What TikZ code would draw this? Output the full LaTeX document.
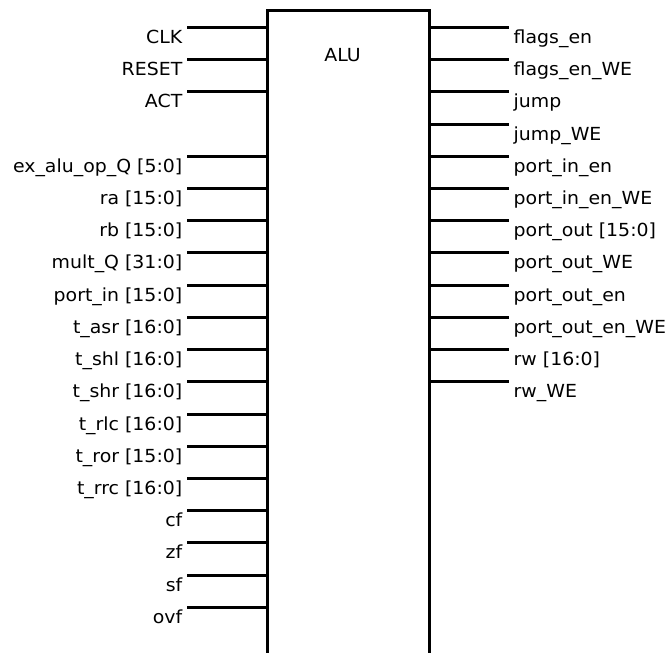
\documentclass[tikz,border=0pt]{standalone}
\usepackage{fontspec}
\setmainfont[FakeStretch=1.05]{DejaVu Sans}
\begin{document}
\begin{tikzpicture}[x=1pt,y=-1pt,
  pin/.style={line width=3pt},
  boxline/.style={line width=3pt},
  lbl/.style={inner sep=0pt,font=\fontsize{18}{21}\selectfont}]
\useasboundingbox (0,0) rectangle (668,652);
\def\dy{32.22}
\def\yz{27.4}
% box
\coordinate (bl) at (267,653);
\coordinate (tl) at (267,11);
\coordinate (tr) at (429,11);
\coordinate (br) at (429,653);
\draw[boxline] (bl) -- (tl) -- (tr) -- (br);
\node[lbl,anchor=base] (alu) at (342.5,61.5) {ALU};
% left pins
\foreach \i/\t in {0/CLK,1/RESET,2/ACT,4/{ex\_alu\_op\_Q [5:0]},5/{ra [15:0]},6/{rb [15:0]},7/{mult\_Q [31:0]},8/{port\_in [15:0]},9/{t\_asr [16:0]},10/{t\_shl [16:0]},11/{t\_shr [16:0]},12/{t\_rlc [16:0]},13/{t\_ror [15:0]},14/{t\_rrc [16:0]},15/cf,16/zf,17/sf,18/ovf}{
  \pgfmathsetmacro\yy{\yz+\i*\dy}
  \coordinate (L\i) at (187,\yy);
  \coordinate (LB\i) at (267,\yy);
  \node[lbl,anchor=base east] (LT\i) at (182.5,\yy+16) {\t};
  \draw[pin] (L\i) -- (LB\i);
}
% right pins
\foreach \i/\t in {0/flags\_en,1/flags\_en\_WE,2/jump,3/jump\_WE,4/port\_in\_en,5/port\_in\_en\_WE,6/{port\_out [15:0]},7/port\_out\_WE,8/port\_out\_en,9/port\_out\_en\_WE,10/{rw [16:0]},11/rw\_WE}{
  \pgfmathsetmacro\yy{\yz+\i*\dy}
  \coordinate (RB\i) at (429,\yy);
  \coordinate (R\i) at (509,\yy);
  \node[lbl,anchor=base west] (RT\i) at (513.5,\yy+16) {\t};
  \draw[pin] (RB\i) -- (R\i);
}
\end{tikzpicture}
\end{document}
